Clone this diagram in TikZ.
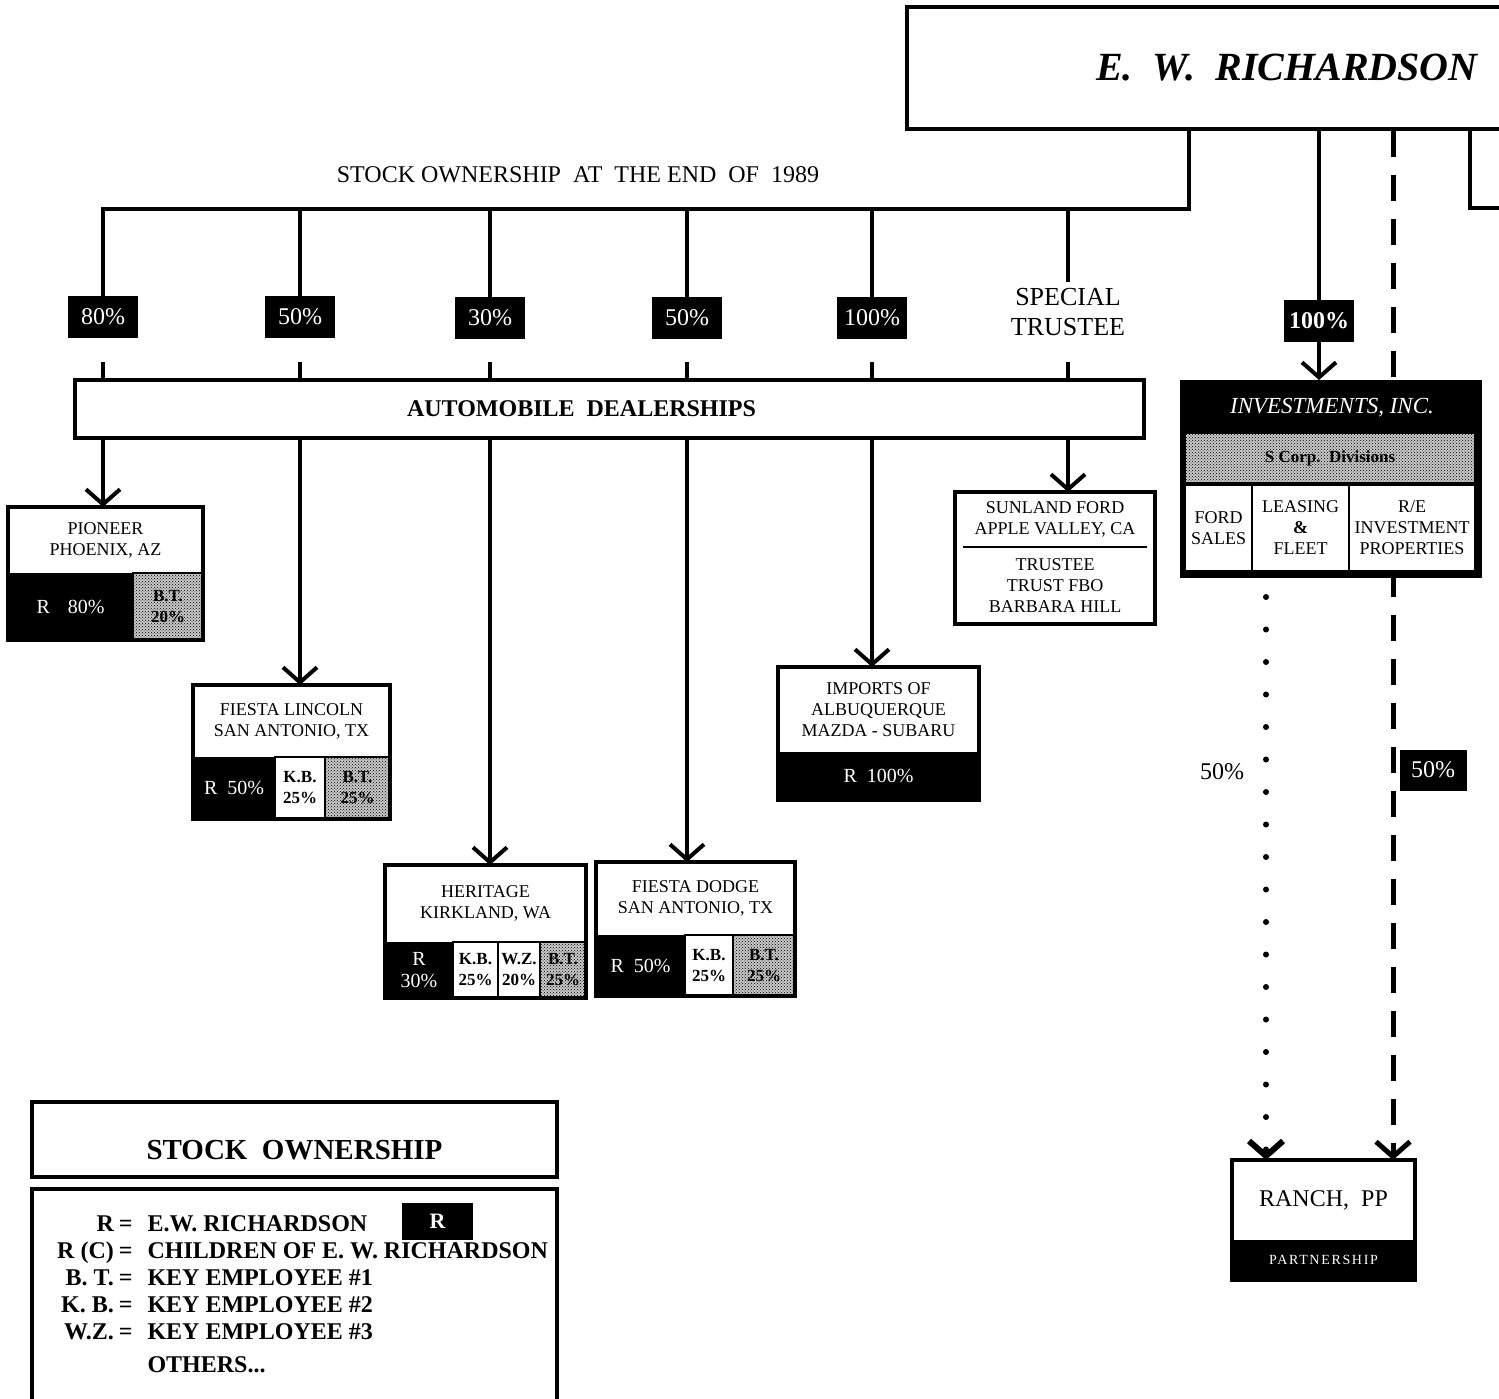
\documentclass[tikz,border=0pt]{standalone}
\usepackage{fontspec}
\setmainfont{Liberation Serif}
\usetikzlibrary{positioning,arrows.meta,patterns}
\newcommand{\setfs}[2]{\fontsize{#1}{#2}\selectfont}

\begin{document}
\begin{tikzpicture}[x=1pt,y=-1pt,
	bigline/.style={line width=4pt},
	arr/.style={bigline,-{Straight Barb[length=15pt,width=34pt]}},
	pct/.style={fill=black,text=white,minimum width=70pt,minimum height=42pt,inner sep=0pt,font=\setfs{24}{26}},
	firm/.style={align=center,inner sep=0pt,outer sep=0pt,font=\setfs{18}{21}},
	rcell/.style={draw,line width=1pt,fill=black,text=white,align=center,inner sep=0pt,outer sep=0pt,font=\setfs{20}{22}},
	wcell/.style={draw,line width=1.5pt,fill=white,align=center,inner sep=0pt,outer sep=0pt,font=\bfseries\setfs{17}{21}},
	dcell/.style={wcell,preaction={fill=black!22},pattern=crosshatch dots}
	]
	\useasboundingbox (0,0) rectangle (1499,1399);

	\node[draw,bigline,minimum width=760pt,minimum height=122pt,anchor=north west,inner sep=0pt,
		font=\bfseries\itshape\setfs{40}{44}] (EWR) at (905,5) {E.\ \ W.\ \ RICHARDSON};
	\node[font=\setfs{24}{26}] (TTL) at (578,175) {STOCK OWNERSHIP\ \ AT\ \ THE END\ \ OF\ \ 1989};

	\node[pct] (P80) at (103,317) {80\%};
	\node[pct] (P50) at (300,317) {50\%};
	\node[pct] (P30) at (490,318) {30\%};
	\node[pct] (P50b) at (687,318) {50\%};
	\node[pct] (P100) at (872,318) {100\%};
	\node[align=center,inner xsep=0pt,inner ysep=6pt,font=\setfs{26}{30}] (ST) at (1068,312) {SPECIAL\\TRUSTEE};

	\node[draw,bigline,minimum width=1069pt,minimum height=58pt,font=\bfseries\setfs{24}{26}] (AD) at (609.5,409)
		{AUTOMOBILE\ \ DEALERSHIPS\hspace*{56pt}};

	\coordinate (B) at (1189,209);
	\draw[bigline] (EWR.south -| B) -- (B) -| (P80.north);
	\foreach \p in {P50,P30,P50b,P100,ST}
		\draw[bigline] (B -| \p.north) -- (\p.north);
	\foreach \p in {P80,P50,P30,P50b,P100,ST}
		\draw[bigline] (AD.north -| \p) -- ++(0,-16);

	% dealerships
	\node[firm,minimum width=195pt,minimum height=66pt,anchor=north west] (PIO) at (8,507) {PIONEER\\PHOENIX, AZ};
	\node[rcell,minimum width=125pt,minimum height=67pt,anchor=north west] (PIOr) at (PIO.south west) {R\hspace{18pt}80\%};
	\node[dcell,minimum width=70pt,minimum height=67pt,right=0pt of PIOr] (PIObt) {B.T.\\20\%};
	\draw[bigline] (PIO.north west) rectangle (PIObt.south east);

	\node[firm,minimum width=197pt,minimum height=72pt,anchor=north west] (LIN) at (193,685) {FIESTA LINCOLN\\SAN ANTONIO, TX};
	\node[rcell,minimum width=82pt,minimum height=62pt,anchor=north west] (LINr) at (LIN.south west) {R\hspace{10pt}50\%};
	\node[wcell,minimum width=50pt,minimum height=62pt,right=0pt of LINr] (LINkb) {K.B.\\25\%};
	\node[dcell,minimum width=65pt,minimum height=62pt,right=0pt of LINkb] (LINbt) {B.T.\\25\%};
	\draw[bigline] (LIN.north west) rectangle (LINbt.south east);

	\node[firm,minimum width=201pt,minimum height=77pt,anchor=north west] (HER) at (385,865) {HERITAGE\\KIRKLAND, WA};
	\node[rcell,minimum width=68pt,minimum height=56pt,anchor=north west] (HERr) at (HER.south west) {R\\30\%};
	\node[wcell,minimum width=45pt,minimum height=56pt,right=0pt of HERr] (HERkb) {K.B.\\25\%};
	\node[wcell,minimum width=42pt,minimum height=56pt,right=0pt of HERkb] (HERwz) {W.Z.\\20\%};
	\node[dcell,minimum width=46pt,minimum height=56pt,right=0pt of HERwz] (HERbt) {B.T.\\25\%};
	\draw[bigline] (HER.north west) rectangle (HERbt.south east);

	\node[firm,minimum width=199pt,minimum height=73pt,anchor=north west] (DOD) at (596,862) {FIESTA DODGE\\SAN ANTONIO, TX};
	\node[rcell,minimum width=89pt,minimum height=61pt,anchor=north west] (DODr) at (DOD.south west) {R\hspace{10pt}50\%};
	\node[wcell,minimum width=48pt,minimum height=61pt,right=0pt of DODr] (DODkb) {K.B.\\25\%};
	\node[dcell,minimum width=62pt,minimum height=61pt,right=0pt of DODkb] (DODbt) {B.T.\\25\%};
	\draw[bigline] (DOD.north west) rectangle (DODbt.south east);

	\node[firm,minimum width=201pt,minimum height=85pt,anchor=north west] (IMP) at (778,667) {IMPORTS OF\\ALBUQUERQUE\\MAZDA - SUBARU};
	\node[rcell,minimum width=201pt,minimum height=48pt,anchor=north west] (IMPr) at (IMP.south west) {R\hspace{10pt}100\%};
	\draw[bigline] (IMP.north west) rectangle (IMPr.south east);

	\node[firm,minimum width=200pt,minimum height=55pt,anchor=north west] (SUN) at (955,492) {SUNLAND FORD\\APPLE VALLEY, CA};
	\node[firm,minimum width=200pt,minimum height=77pt,below=0pt of SUN] (SUNt) {TRUSTEE\\TRUST FBO\\BARBARA HILL};
	\draw[bigline] (SUN.north west) rectangle (SUNt.south east);
	\draw[line width=1.5pt] ([xshift=8pt]SUN.south west) -- ([xshift=-8pt]SUN.south east);

	\draw[arr] (AD.south -| P80) -- (PIO.north -| P80);
	\draw[arr] (AD.south -| P50) -- (LIN.north -| P50);
	\draw[arr] (AD.south -| P30) -- (HER.north -| P30);
	\draw[arr] (AD.south -| P50b) -- (DOD.north -| P50b);
	\draw[arr] (AD.south -| P100) -- (IMP.north -| P100);
	\draw[arr] (AD.south -| ST) -- (SUN.north -| ST);

	% investments and ranch
	\node[firm,minimum width=183pt,minimum height=80pt,anchor=north west,font=\setfs{24}{26}] (RAN) at (1232,1160) {RANCH,\ \ PP};
	\node[rcell,minimum width=183pt,minimum height=40pt,anchor=north west,font=\setfs{14}{16}] (RANp) at (RAN.south west)
		{\addfontfeature{LetterSpace=12}PARTNERSHIP};
	\draw[bigline] (RAN.north west) rectangle (RANp.south east);

	\coordinate (DL) at (1393,0);
	\coordinate (DT) at (1266,597);
	\coordinate (RB) at (1470,208);
	\draw[arr,line width=5pt,dash pattern=on 26pt off 18pt] (EWR.south -| DL) -- (RAN.north -| DL);
	\draw[arr,line width=6pt,line cap=round,dash pattern=on 0pt off 32.5pt] (DT) -- (RAN.north -| DT);

	\node[pct,font=\bfseries\setfs{24}{26}] (P100r) at (1319,321) {100\%};
	\node[fill=black,draw,line width=2pt,minimum width=300pt,minimum height=196pt,anchor=north west,inner sep=0pt] (INV) at (1180,380) {};
	\node[text=white,font=\itshape\setfs{23}{25}] (INVt) at (1332,408) {INVESTMENTS, INC.};
	\node[dcell,minimum width=290pt,minimum height=50pt,anchor=north west] (SCD) at (1185,433) {S Corp.\ \ Divisions};
	\node[wcell,font=\setfs{18}{21},minimum width=67pt,minimum height=86pt,anchor=north west] (FS) at (1185,485) {FORD\\SALES};
	\node[wcell,font=\setfs{18}{21},minimum width=97pt,minimum height=86pt,right=0pt of FS] (LF) {LEASING\\\textbf{\&}\\FLEET};
	\node[wcell,font=\setfs{18}{21},minimum width=126pt,minimum height=86pt,right=0pt of LF] (RE) {R/E\\INVESTMENT\\PROPERTIES};

	\draw[bigline] (EWR.south -| P100r) -- (P100r.north);
	\draw[arr] (P100r.south) -- (INV.north -| P100r);
	\draw[bigline] (EWR.south -| RB) -- (RB) -- ++(40,0);
	\node[font=\setfs{24}{26}] (H50) at (1222,772) {50\%};
	\node[pct,minimum width=67pt,minimum height=41pt] (P50r) at (1433,770) {50\%};

	% legend
	\node[draw,bigline,minimum width=525pt,minimum height=75pt,anchor=north west,text height=40pt,text depth=0pt,
		font=\bfseries\setfs{29}{32}] (LT) at (30,1100) {STOCK\ \ OWNERSHIP};
	\node[draw,bigline,minimum width=525pt,minimum height=260pt,anchor=north west] (LB) at (30,1187) {};
	\node[anchor=north west,inner sep=0pt,font=\bfseries\setfs{24}{27}] (LK) at (57,1212) {%
		\begin{tabular}{@{}r@{\hspace{5pt}}c@{\hspace{15pt}}l@{}}
			R & = & E.W. RICHARDSON\\
			R (C) & = & CHILDREN OF E. W. RICHARDSON\\
			B. T. & = & KEY EMPLOYEE \#1\\
			K. B. & = & KEY EMPLOYEE \#2\\
			W.Z. & = & KEY EMPLOYEE \#3\\[6pt]
			& & OTHERS...
		\end{tabular}};
	\node[fill=black,text=white,minimum width=71pt,minimum height=37pt,font=\bfseries\setfs{22}{24}] (LR) at (437.5,1221.5) {R};
\end{tikzpicture}
\end{document}
